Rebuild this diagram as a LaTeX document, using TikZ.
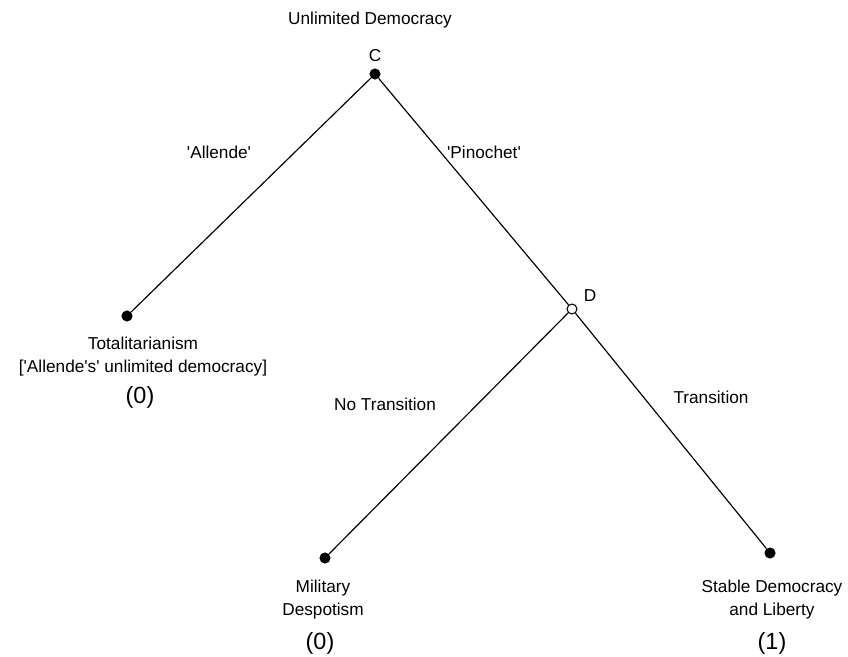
\documentclass[tikz,border=0pt]{standalone}
\usepackage{fontspec}
\setmainfont{Liberation Sans}[Ligatures=TeXOff]
\tikzset{
  decision/.style={
    circle,
    fill=black,
    inner sep=0pt,
    minimum size=9.5pt
  },
  open decision/.style={
    circle,
    draw=black,
    fill=white,
    line width=0.9pt,
    inner sep=0pt,
    minimum size=8.5pt
  },
  branch/.style={
    line width=1pt
  },
  plain text/.style={
    align=center,
    inner sep=0pt,
    font=\fontsize{14.7}{19.6}\selectfont
  },
  payoff/.style={
    inner sep=0pt,
    font=\fontsize{20}{24}\selectfont
  }
}

\begin{document}
\begin{tikzpicture}[x=0.03cm,y=-0.03cm]

    \useasboundingbox (0,0) rectangle (848,657);

    % ---------- decision points ----------
    \node[decision] (C) at (375,74) {};
    \node[open decision] (D) at (572,309) {};

    % ---------- end points ----------
    \node[decision] (Tot) at (127,316) {};
    \node[decision] (Mil) at (325,558) {};
    \node[decision] (Stab) at (770,553) {};

    % ---------- branches ----------
    \draw[branch] (C) -- (Tot);
    \draw[branch] (C) -- (D);
    \draw[branch] (D) -- (Mil);
    \draw[branch] (D) -- (Stab);

    % ---------- node labels ----------
    \node[plain text] (title) at (370,20) {Unlimited Democracy};
    \node[plain text] (Clab) at (375,56) {C};
    \node[plain text] (Dlab) at (590,296) {D};

    % ---------- move labels ----------
    \node[plain text] (allende) at (219,152) {'Allende'};
    \node[plain text] (pinochet) at (484,152) {'Pinochet'};
    \node[plain text] (notrans) at (385,404) {No Transition};
    \node[plain text] (trans) at (711,397) {Transition};

    % ---------- outcomes ----------
    \node[plain text] (TotText) at (143,357)
      {Totalitarianism\\{[}'Allende's' unlimited democracy{]}};
    \node[plain text] (MilText) at (323,600) {Military\\Despotism};
    \node[plain text] (StabText) at (772,600) {Stable Democracy\\and Liberty};

    % ---------- payoffs ----------
    \node[payoff] (TotPay) at (140,397) {(0)};
    \node[payoff] (MilPay) at (320,643) {(0)};
    \node[payoff] (StabPay) at (772,643) {(1)};

  \end{tikzpicture}
\end{document}
